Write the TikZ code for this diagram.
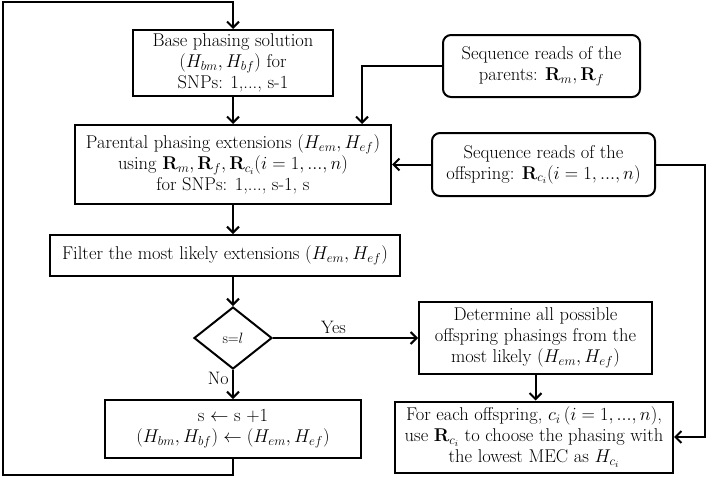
\RequirePackage{fix-cm}
\documentclass[tikz,border=0pt]{standalone}
\usepackage{amsmath, amssymb}
\usepackage{tikz}
\usetikzlibrary{shapes.geometric, arrows.meta}

\begin{document}
\begin{tikzpicture}[x=1pt, y=-1pt,
    box/.style={draw, line width=2pt, align=center, inner sep=2pt,
        font=\fontsize{18.5}{21}\selectfont},
    readbox/.style={box, rounded corners=8pt},
    decision/.style={draw, diamond, line width=2pt, aspect=1.25, inner sep=0pt,
        font=\fontsize{15}{17}\selectfont},
    arr/.style={line width=2pt, -{Straight Barb[length=6pt, width=12pt, line width=2pt]}},
    lbl/.style={font=\fontsize{18}{20}\selectfont}]
    \useasboundingbox (0, 0) rectangle (708, 482);

    % Main column
    \node[box, minimum width=200pt, minimum height=66pt] (base) at (233, 63)
        {Base phasing solution\\ $(H_{bm}, H_{bf})$ for\\ SNPs: 1,..., s-1};
    \node[box, minimum width=316pt, minimum height=79pt] (parental) at (233, 164.5)
        {Parental phasing extensions $(H_{em}, H_{ef})$\\
         using $\mathbf{R}_m, \mathbf{R}_f, \mathbf{R}_{c_i} (i = 1,...,n)$\\
         for SNPs: 1,..., s-1, s};
    \node[box, minimum width=350pt, minimum height=41pt] (filter) at (225, 255.5)
        {Filter the most likely extensions $(H_{em}, H_{ef})$};
    \node[decision, minimum width=78pt, minimum height=62pt] (dec) at (233, 338) {s=$l$};
    \node[box, minimum width=256pt, minimum height=58pt] (update) at (233, 429)
        {s $\leftarrow$ s +1\\ $(H_{bm}, H_{bf}) \leftarrow (H_{em}, H_{ef})$};

    % Sequence reads
    \node[readbox, minimum width=197pt, minimum height=62pt] (parents) at (541.5, 66)
        {Sequence reads of the\\ parents: $\mathbf{R}_m, \mathbf{R}_f$};
    \node[readbox, minimum width=223pt, minimum height=63pt] (offspring) at (543.5, 164.5)
        {Sequence reads of the\\ offspring: $\mathbf{R}_{c_i} (i = 1,...,n)$};

    % Offspring phasing
    \node[box, minimum width=233pt, minimum height=72pt] (determine) at (535.5, 338)
        {Determine all possible\\ offspring phasings from the\\ most likely $(H_{em}, H_{ef})$};
    \node[box, minimum width=278pt, minimum height=71pt] (choose) at (534, 437)
        {For each offspring, $c_i\, (i = 1,...,n)$,\\
         use $\mathbf{R}_{c_i}$ to choose the phasing with\\
         the lowest MEC as $H_{c_i}$};

    % Connectors
    \coordinate (pdrop) at (362, 0);
    \coordinate (rail) at (705, 0);
    \coordinate (lbot) at (3, 475);
    \coordinate (ltop) at (3, 2);

    \draw[arr] (base) -- (parental);
    \draw[arr] (parental.south) -- (parental.south |- filter.north);
    \draw[arr] (filter.south -| dec) -- (dec.north);
    \draw[arr] (dec.south) -- (update.north) node[lbl, pos=0.3, left] {No};
    \draw[arr] (dec.east) -- (determine.west) node[lbl, midway, above, xshift=-12pt] {Yes};
    \draw[arr] (determine.south) -- (determine.south |- choose.north);
    \draw[arr] (parents.west) -| (pdrop |- parental.north);
    \draw[arr] (offspring.west) -- (parental.east);
    \draw[arr] (offspring.east) -| (rail |- choose.east) -- (choose.east);

    % Loop back
    \draw[arr] (update.south) |- (lbot) -- (ltop) -| (base.north);
\end{tikzpicture}
\end{document}
